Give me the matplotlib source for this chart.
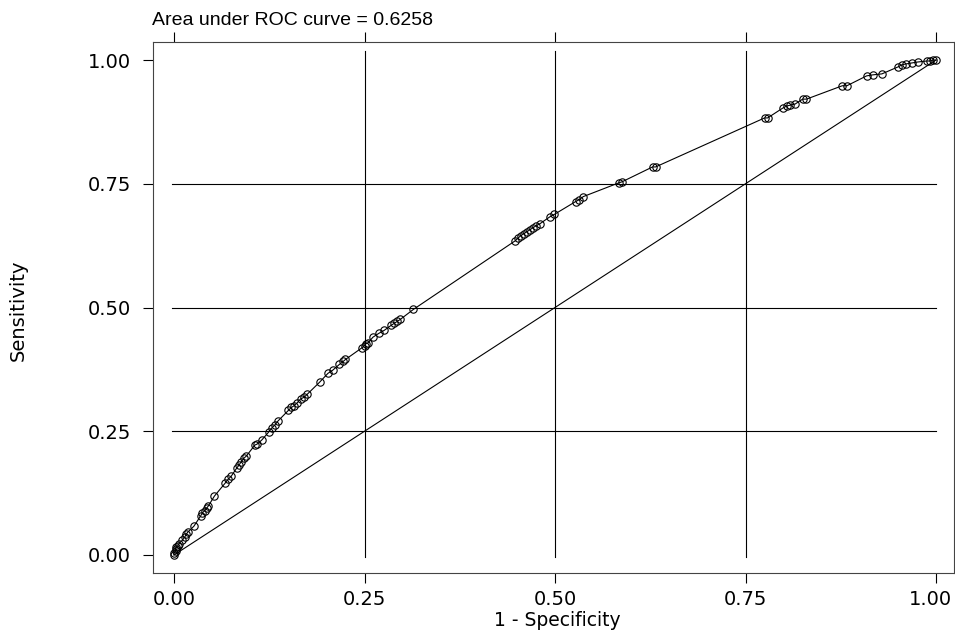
import matplotlib
matplotlib.use("Agg")
import matplotlib.pyplot as plt
import matplotlib.transforms as mtransforms

plt.rcParams['font.family'] = ['Liberation Sans', 'DejaVu Sans']

# ROC curve points
fpr = [0.000, 0.000, 0.002, 0.002, 0.003, 0.005, 0.006, 0.011, 0.014, 0.016,
       0.018, 0.026, 0.035, 0.037, 0.040, 0.043, 0.045, 0.053, 0.067, 0.071,
       0.075, 0.082, 0.085, 0.088, 0.092, 0.095, 0.106, 0.109, 0.115, 0.124,
       0.128, 0.132, 0.136, 0.150, 0.154, 0.158, 0.162, 0.166, 0.171, 0.175,
       0.191, 0.202, 0.208, 0.217, 0.222, 0.225, 0.247, 0.250, 0.252, 0.255,
       0.261, 0.269, 0.276, 0.285, 0.289, 0.293, 0.297, 0.314, 0.448, 0.452,
       0.455, 0.459, 0.463, 0.467, 0.471, 0.475, 0.480, 0.493, 0.499, 0.527,
       0.532, 0.537, 0.584, 0.588, 0.628, 0.632, 0.775, 0.779, 0.799, 0.804,
       0.809, 0.815, 0.825, 0.830, 0.877, 0.883, 0.909, 0.917, 0.929, 0.950,
       0.955, 0.960, 0.968, 0.976, 0.988, 0.992, 0.996, 1.000]
tpr = [0.000, 0.004, 0.008, 0.012, 0.016, 0.018, 0.022, 0.030, 0.036, 0.042,
       0.046, 0.058, 0.079, 0.085, 0.089, 0.095, 0.099, 0.119, 0.145, 0.153,
       0.159, 0.175, 0.181, 0.188, 0.196, 0.200, 0.222, 0.224, 0.232, 0.248,
       0.256, 0.262, 0.270, 0.292, 0.298, 0.302, 0.308, 0.315, 0.319, 0.325,
       0.349, 0.367, 0.373, 0.385, 0.391, 0.395, 0.419, 0.423, 0.427, 0.429,
       0.440, 0.448, 0.454, 0.464, 0.468, 0.472, 0.476, 0.496, 0.635, 0.641,
       0.645, 0.649, 0.653, 0.657, 0.661, 0.665, 0.669, 0.683, 0.688, 0.714,
       0.718, 0.724, 0.752, 0.754, 0.784, 0.784, 0.883, 0.883, 0.903, 0.907,
       0.909, 0.911, 0.921, 0.921, 0.948, 0.948, 0.968, 0.970, 0.972, 0.986,
       0.990, 0.992, 0.994, 0.996, 0.998, 0.998, 1.000, 1.000]

ticks = [0.0, 0.25, 0.5, 0.75, 1.0]
tick_labels = ["0.00", "0.25", "0.50", "0.75", "1.00"]
grid_vals = [0.25, 0.5, 0.75]
ref_line = [0.0, 1.0]
title = "Area under ROC curve = 0.6258"

wide = ['DejaVu Sans']

fig = plt.figure(figsize=(9.55, 6.3), dpi=100)
ax = fig.add_axes([153/955, 1 - 573/630, (954 - 153)/955, (573 - 42)/630])
ax.set_xlim(-0.0276, 1.0236)
ax.set_ylim(-0.0364, 1.0364)

# grid lines
for g in grid_vals:
    ax.plot([g, g], [-0.005, 1.018], color='black', lw=0.8, zorder=1)
    ax.plot([-0.003, 1.0], [g, g], color='black', lw=0.8, zorder=1)

# reference diagonal
ax.plot(ref_line, ref_line, color='black', lw=0.8, zorder=2)

# ROC curve
ax.plot(fpr, tpr, color='black', lw=0.8, marker='o', markersize=5.3,
        markerfacecolor='none', markeredgecolor='black', markeredgewidth=0.8,
        zorder=3)

for s in ax.spines.values():
    s.set_linewidth(0.8)
    s.set_color('#444444')

ax.set_xticks(ticks)
ax.set_xticklabels(tick_labels, fontsize=14, family=wide)
ax.set_yticks(ticks)
ax.set_yticklabels(tick_labels, fontsize=14, family=wide)
ax.tick_params(axis='x', direction='out', length=7, width=0.8, pad=5,
               top=True, labeltop=False)
ax.tick_params(axis='y', direction='out', length=7, width=0.8, pad=9,
               right=False)

# nudge the last x tick label so it stays inside the figure
last = ax.get_xticklabels()[-1]
last.set_transform(last.get_transform() +
                   mtransforms.ScaledTranslation(-6/100, 0, fig.dpi_scale_trans))

fig.text(18/955, 1 - 310/630, "Sensitivity", rotation=90, fontsize=14,
         family=wide, ha='center', va='center')
fig.text(557/955, 1 - 620/630, "1 - Specificity", fontsize=13.5,
         family=wide, ha='center', va='center')
fig.text(152/955, 1 - 25/630, title, fontsize=14, ha='left', va='baseline')

fig.savefig("out.png", dpi=100)
